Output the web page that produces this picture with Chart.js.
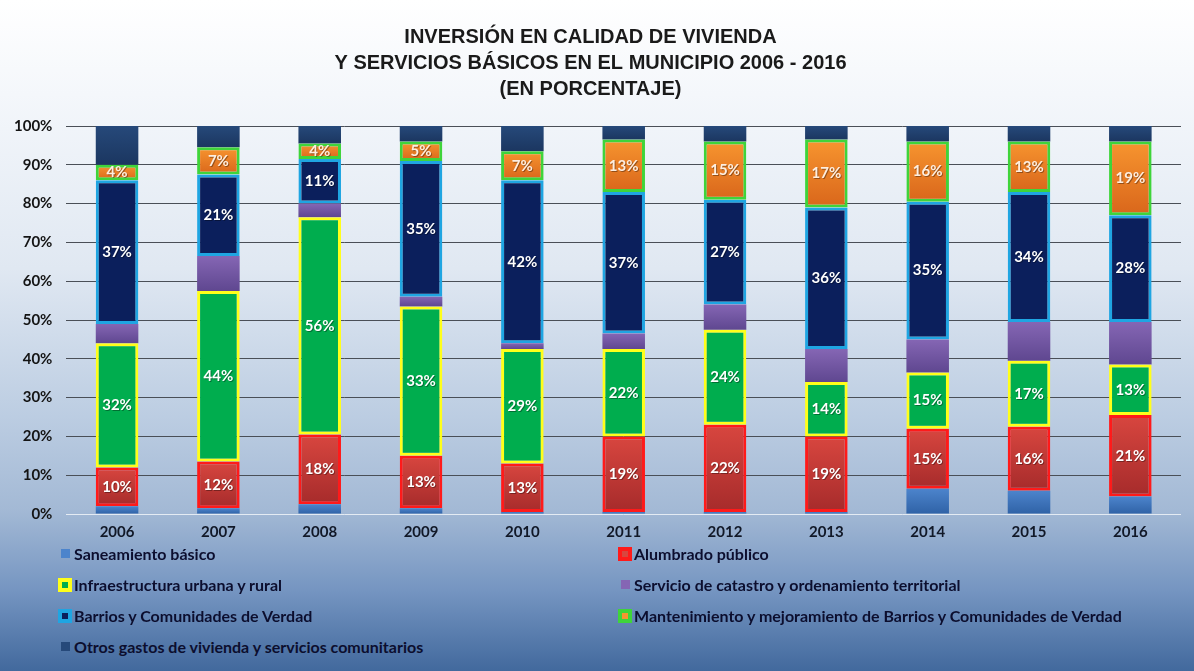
<!DOCTYPE html>
<html>
<head>
<meta charset="utf-8">
<script src="https://cdn.jsdelivr.net/npm/chart.js@4.4.0/dist/chart.umd.min.js"></script>
<style>
	html, body { margin: 0; padding: 0; }
	#page {
		position: relative;
		width: 1194px;
		height: 671px;
		overflow: hidden;
		background: linear-gradient(to bottom, #ffffff 0%, #f4f7fb 14%, #e0e8f2 40%, #bccde2 62%, #a3b9d5 76%, #7595c1 88%, #42699d 100%);
	}
	#chartBox { position: absolute; left: 0; top: 0; width: 1194px; height: 554px; }
	#legendContainer {
		position: absolute;
		left: 0; top: 538px;
		width: 1194px;
		font-family: Lato, "Open Sans", sans-serif;
		font-weight: bold;
		font-size: 16px;
		color: #0c0e2e;
	}
	.legendItem { position: absolute; display: flex; align-items: center; height: 31px; white-space: nowrap; }
	.legendSlot { width: 14px; height: 14px; margin-right: 2px; display: flex; align-items: center; justify-content: center; }
	.legendBox { box-sizing: border-box; }
</style>
</head>
<body>
<div id="page">
	<div id="chartBox"><canvas id="viviendaChart"></canvas></div>
	<div id="legendContainer"></div>
</div>
<script>
const years = ['2006', '2007', '2008', '2009', '2010', '2011', '2012', '2013', '2014', '2015', '2016'];

// shares (each column adds up to 100)
const saneamiento   = [2,   1.5, 2.5, 1.5, 0.5, 0.5, 0.5, 0.5, 6.5, 6,    4.5];
const alumbrado     = [10,  12,  18,  13.5, 12.5, 19.5, 22.5, 19.5, 15.5, 16.5, 21];
const infraestructura = [32, 44, 56, 38.5, 29.5, 22.5, 24.5, 14, 14.5, 17, 13];
const catastro      = [5,   9,   3.5, 2.5, 1.5, 4,   6.5, 8.5, 8.5, 10,   11];
const barrios       = [37,  21,  11.5, 35, 42,  36.5, 27, 36.5, 35.5, 33.5, 27.5];
const mantenimiento = [4,   7,   4,   5,   7.5, 13.5, 15, 17.5, 15.5, 13,   19];
const otros         = [10,  5.5, 4.5, 4,   6.5, 3.5, 4,   3.5, 4,   4,    4];

// labels printed on the bars
const alumbradoLabels = ['10%', '12%', '18%', '13%', '13%', '19%', '22%', '19%', '15%', '16%', '21%'];
const infraLabels     = ['32%', '44%', '56%', '33%', '29%', '22%', '24%', '14%', '15%', '17%', '13%'];
const barriosLabels   = ['37%', '21%', '11%', '35%', '42%', '37%', '27%', '36%', '35%', '34%', '28%'];
const mantLabels      = ['4%', '7%', '4%', '5%', '7%', '13%', '15%', '17%', '16%', '13%', '19%'];

const yTicks = [0, 10, 20, 30, 40, 50, 60, 70, 80, 90, 100];

const chartFont = 'Lato, "Open Sans", sans-serif';

// vertical gradient for one segment, from the stacked range on the y scale
function segmentGradient(top, bottom){
	return function(c){
		const chart = c.chart;
		const y = chart.scales.y;
		if (c.type !== 'data' || !y) return top;
		let start = 0;
		for (let k = 0; k < c.datasetIndex; k++)
			start += chart.data.datasets[k].data[c.dataIndex];
		const end = start + c.raw;
		const y0 = y.getPixelForValue(end), y1 = y.getPixelForValue(start);
		if (!isFinite(y0) || !isFinite(y1) || y0 == y1) return top;
		const g = chart.ctx.createLinearGradient(0, y0, 0, y1);
		g.addColorStop(0, top);
		g.addColorStop(1, bottom);
		return g;
	};
}

function makeDataset(label, data, fill, border, printed){
	const flat = typeof fill == 'string' ? fill : fill[0];
	return {
		label: label,
		data: data,
		backgroundColor: typeof fill == 'string' ? fill : segmentGradient(fill[0], fill[1]),
		borderColor: border || flat,
		borderWidth: border ? 3 : 0,
		borderSkipped: false,
		printedLabels: printed || null,
		legendFill: flat,
		legendBorder: border || null
	};
}

const barLabelPlugin = {
	id: 'barLabels',
	afterDatasetsDraw(chart){
		const ctx = chart.ctx;
		ctx.save();
		ctx.font = 'bold 15px ' + chartFont;
		ctx.textAlign = 'center';
		ctx.textBaseline = 'middle';
		chart.data.datasets.forEach(function(ds, i){
			if (!ds.printedLabels) return;
			chart.getDatasetMeta(i).data.forEach(function(bar, j){
				const pos = bar.getCenterPoint();
				ctx.fillStyle = 'rgba(0,0,0,0.35)';
				ctx.fillText(ds.printedLabels[j], pos.x + 1, pos.y + 1);
				ctx.fillStyle = ds.label.startsWith('Mantenimiento') ? '#fdeee0' : '#ffffff';
				ctx.fillText(ds.printedLabels[j], pos.x, pos.y);
			});
		});
		ctx.restore();
	}
};

const htmlLegendPlugin = {
	id: 'htmlLegend',
	afterUpdate(chart){
		const container = document.getElementById('legendContainer');
		container.innerHTML = '';
		chart.data.datasets.forEach(function(ds, i){
			const item = document.createElement('div');
			item.className = 'legendItem';
			item.style.left = (i % 2 == 0 ? 58 : 618) + 'px';
			item.style.top = (Math.floor(i / 2) * 31) + 'px';
			const slot = document.createElement('span');
			slot.className = 'legendSlot';
			const box = document.createElement('span');
			box.className = 'legendBox';
			if (ds.legendBorder){
				box.style.width = '14px';
				box.style.height = '14px';
				box.style.border = '4.5px solid ' + ds.legendBorder;
				box.style.background = ds.legendFill;
			} else {
				box.style.width = '9px';
				box.style.height = '9px';
				box.style.background = ds.legendFill;
			}
			slot.appendChild(box);
			const text = document.createElement('span');
			text.innerText = ds.label;
			item.appendChild(slot);
			item.appendChild(text);
			container.appendChild(item);
		});
	}
};

const viviendaChart = new Chart(document.getElementById('viviendaChart'), {
	type: 'bar',
	data: {
		labels: years,
		datasets: [
			makeDataset('Saneamiento básico', saneamiento, ['#4c84cc', '#2f62a6']),
			makeDataset('Alumbrado público', alumbrado, ['#d8463f', '#a62b2b'], '#ff1a1a', alumbradoLabels),
			makeDataset('Infraestructura urbana y rural', infraestructura, '#00ad4e', '#ffff1a', infraLabels),
			makeDataset('Servicio de catastro y ordenamiento territorial', catastro, ['#8566b4', '#5f4790']),
			makeDataset('Barrios y Comunidades de Verdad', barrios, '#0b1f5c', '#1fa5e2', barriosLabels),
			makeDataset('Mantenimiento y mejoramiento de Barrios y Comunidades de Verdad', mantenimiento, ['#f7952f', '#d9661b'], '#3fd43a', mantLabels),
			makeDataset('Otros gastos de vivienda y servicios comunitarios', otros, ['#26497a', '#1b3660'])
		]
	},
	options: {
		responsive: true,
		maintainAspectRatio: false,
		animation: false,
		layout: { padding: { left: 0, right: 13, bottom: 4 } },
		datasets: {
			bar: { barPercentage: 0.42, categoryPercentage: 1 }
		},
		plugins: {
			legend: { display: false },
			tooltip: { enabled: false },
			title: {
				display: true,
				text: ['INVERSIÓN EN CALIDAD DE VIVIENDA', 'Y SERVICIOS BÁSICOS EN EL MUNICIPIO 2006 - 2016', '(EN PORCENTAJE)'],
				color: '#1a1a1a',
				font: { family: '"Liberation Sans", Arial, sans-serif', size: 20, weight: 'bold', lineHeight: 1.3 },
				padding: { top: 24, bottom: 24 }
			}
		},
		scales: {
			x: {
				stacked: true,
				grid: { display: false, drawTicks: false },
				border: { display: false },
				ticks: { color: '#111827', padding: 9, font: { family: chartFont, size: 15, weight: 'bold' } }
			},
			y: {
				stacked: true,
				min: 0,
				max: 100,
				afterBuildTicks(axis){ axis.ticks = yTicks.map(v => ({ value: v })); },
				grid: {
					color: c => c.tick && c.tick.value === 0 ? '#e4ebf3' : '#4a4f57',
					lineWidth: 1,
					drawTicks: false
				},
				border: { display: false },
				ticks: {
					color: '#141414',
					padding: 14,
					font: { family: chartFont, size: 15, weight: 'bold' },
					callback: v => v + '%'
				}
			}
		}
	},
	plugins: [barLabelPlugin, htmlLegendPlugin]
});
</script>
</body>
</html>
